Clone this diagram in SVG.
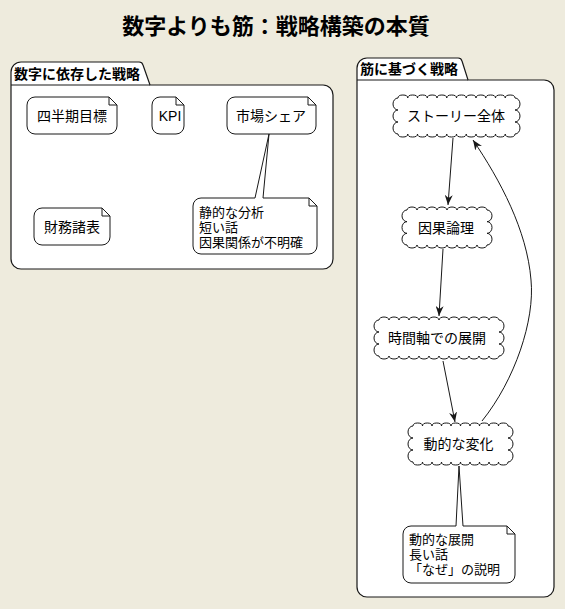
<svg xmlns="http://www.w3.org/2000/svg" width="565" height="609" viewBox="0 0 565 609">
<style>
text{font-family:"Liberation Sans","Noto Sans CJK JP",sans-serif;fill:#000}
.title{font-size:22px;font-weight:bold}
.pkgt{font-size:14px;font-weight:bold}
.nt{font-size:14px}
.nn{font-size:13px}
.shape{fill:#fff;stroke:#181818;stroke-width:1}
.fold{fill:none;stroke:#181818;stroke-width:1}
.pkg{fill:#fff;stroke:#181818;stroke-width:1.2}
.edge{fill:none;stroke:#181818;stroke-width:1}
</style>
<defs>
<marker id="ah" markerUnits="userSpaceOnUse" markerWidth="10" markerHeight="8" viewBox="0 0 10 8" refX="10" refY="4" orient="auto">
<path d="M0,0 L10,4 L0,8 L3,4 Z" fill="#181818"/>
</marker>
</defs>
<rect width="565" height="609" fill="#EEEBDD"/>
<text class="title" x="276" y="34" text-anchor="middle">数字よりも筋：戦略構築の本質</text>

<g id="pkg-numbers">
<path class="pkg" d="M11,85 V72 A10,10 0 0 1 21,62 H139 A4,4 0 0 1 143,65 L150,85 H323 A10,10 0 0 1 333,95 V259 A10,10 0 0 1 323,269 H21 A10,10 0 0 1 11,259 Z"/>
<path class="fold" d="M11,85 H150"/>
<text class="pkgt" x="14" y="79">数字に依存した戦略</text>
</g>

<g id="pkg-story">
<path class="pkg" d="M357,80 V68 A10,10 0 0 1 367,58 H458 A4,4 0 0 1 462,61 L468,80 H544 A10,10 0 0 1 554,90 V587 A10,10 0 0 1 544,597 H367 A10,10 0 0 1 357,587 Z"/>
<path class="fold" d="M357,80 H468"/>
<text class="pkgt" x="360" y="74">筋に基づく戦略</text>
</g>

<g id="n-quarter">
<path class="shape" d="M35,97 H109 L117,105 V126 A8,8 0 0 1 109,134 H35 A8,8 0 0 1 27,126 V105 A8,8 0 0 1 35,97 Z"/>
<path class="fold" d="M109,97 V105 H117"/>
<text class="nt" x="72" y="120.5" text-anchor="middle">四半期目標</text>
</g>

<g id="n-kpi">
<path class="shape" d="M160,97 H176 L184,105 V126 A8,8 0 0 1 176,134 H160 A8,8 0 0 1 152,126 V105 A8,8 0 0 1 160,97 Z"/>
<path class="fold" d="M176,97 V105 H184"/>
<text class="nt" x="170" y="120.5" text-anchor="middle">KPI</text>
</g>

<g id="n-share">
<path class="shape" d="M235,97 H308 L316,105 V126 A8,8 0 0 1 308,134 H235 A8,8 0 0 1 227,126 V105 A8,8 0 0 1 235,97 Z"/>
<path class="fold" d="M308,97 V105 H316"/>
<text class="nt" x="271" y="120.5" text-anchor="middle">市場シェア</text>
</g>

<g id="n-financial">
<path class="shape" d="M42,208 H102 L110,216 V237 A8,8 0 0 1 102,245 H42 A8,8 0 0 1 34,237 V216 A8,8 0 0 1 42,208 Z"/>
<path class="fold" d="M102,208 V216 H110"/>
<text class="nt" x="72" y="231.5" text-anchor="middle">財務諸表</text>
</g>

<g id="note-static">
<path class="shape" d="M201,198 H255 L269,134 L263,198 H309 L317,206 V246 A8,8 0 0 1 309,254 H201 A8,8 0 0 1 193,246 V206 A8,8 0 0 1 201,198 Z"/>
<path class="fold" d="M309,198 V206 H317"/>
<text class="nn" x="199" y="216.5">静的な分析</text>
<text class="nn" x="199" y="231.5">短い話</text>
<text class="nn" x="199" y="246.5">因果関係が不明確</text>
</g>

<g id="c-story">
<path class="shape" d="M398,98 a4.875,3 0 0 1 9.75,0 a4.875,3 0 0 1 9.75,0 a4.875,3 0 0 1 9.75,0 a4.875,3 0 0 1 9.75,0 a4.875,3 0 0 1 9.75,0 a4.875,3 0 0 1 9.75,0 a4.875,3 0 0 1 9.75,0 a4.875,3 0 0 1 9.75,0 a4.875,3 0 0 1 9.75,0 a4.875,3 0 0 1 9.75,0 a4.875,3 0 0 1 9.75,0 a4.875,3 0 0 1 9.75,0 a5,6 0 0 1 0,12 a5,6 0 0 1 0,12 a5,6 0 0 1 0,12 a4.875,3 0 0 1 -9.75,0 a4.875,3 0 0 1 -9.75,0 a4.875,3 0 0 1 -9.75,0 a4.875,3 0 0 1 -9.75,0 a4.875,3 0 0 1 -9.75,0 a4.875,3 0 0 1 -9.75,0 a4.875,3 0 0 1 -9.75,0 a4.875,3 0 0 1 -9.75,0 a4.875,3 0 0 1 -9.75,0 a4.875,3 0 0 1 -9.75,0 a4.875,3 0 0 1 -9.75,0 a4.875,3 0 0 1 -9.75,0 a5,6 0 0 1 0,-12 a5,6 0 0 1 0,-12 a5,6 0 0 1 0,-12 Z"/>
<text class="nt" x="456" y="121" text-anchor="middle">ストーリー全体</text>
</g>

<g id="c-causal">
<path class="shape" d="M407,210 a5,3 0 0 1 10,0 a5,3 0 0 1 10,0 a5,3 0 0 1 10,0 a5,3 0 0 1 10,0 a5,3 0 0 1 10,0 a5,3 0 0 1 10,0 a5,3 0 0 1 10,0 a5,3 0 0 1 10,0 a5,5.833 0 0 1 0,11.667 a5,5.833 0 0 1 0,11.667 a5,5.833 0 0 1 0,11.666 a5,3 0 0 1 -10,0 a5,3 0 0 1 -10,0 a5,3 0 0 1 -10,0 a5,3 0 0 1 -10,0 a5,3 0 0 1 -10,0 a5,3 0 0 1 -10,0 a5,3 0 0 1 -10,0 a5,3 0 0 1 -10,0 a5,5.833 0 0 1 0,-11.667 a5,5.833 0 0 1 0,-11.667 a5,5.833 0 0 1 0,-11.666 Z"/>
<text class="nt" x="446" y="232.5" text-anchor="middle">因果論理</text>
</g>

<g id="c-time">
<path class="shape" d="M379,320 a5,3 0 0 1 10,0 a5,3 0 0 1 10,0 a5,3 0 0 1 10,0 a5,3 0 0 1 10,0 a5,3 0 0 1 10,0 a5,3 0 0 1 10,0 a5,3 0 0 1 10,0 a5,3 0 0 1 10,0 a5,3 0 0 1 10,0 a5,3 0 0 1 10,0 a5,3 0 0 1 10,0 a5,3 0 0 1 10,0 a5,6 0 0 1 0,12 a5,6 0 0 1 0,12 a5,6 0 0 1 0,12 a5,3 0 0 1 -10,0 a5,3 0 0 1 -10,0 a5,3 0 0 1 -10,0 a5,3 0 0 1 -10,0 a5,3 0 0 1 -10,0 a5,3 0 0 1 -10,0 a5,3 0 0 1 -10,0 a5,3 0 0 1 -10,0 a5,3 0 0 1 -10,0 a5,3 0 0 1 -10,0 a5,3 0 0 1 -10,0 a5,3 0 0 1 -10,0 a5,6 0 0 1 0,-12 a5,6 0 0 1 0,-12 a5,6 0 0 1 0,-12 Z"/>
<text class="nt" x="437" y="343" text-anchor="middle">時間軸での展開</text>
</g>

<g id="c-dynamic">
<path class="shape" d="M413,426 a4.75,3 0 0 1 9.5,0 a4.75,3 0 0 1 9.5,0 a4.75,3 0 0 1 9.5,0 a4.75,3 0 0 1 9.5,0 a4.75,3 0 0 1 9.5,0 a4.75,3 0 0 1 9.5,0 a4.75,3 0 0 1 9.5,0 a4.75,3 0 0 1 9.5,0 a4.75,3 0 0 1 9.5,0 a4.75,3 0 0 1 9.5,0 a5,6 0 0 1 0,12 a5,6 0 0 1 0,12 a5,6 0 0 1 0,12 a4.75,3 0 0 1 -9.5,0 a4.75,3 0 0 1 -9.5,0 a4.75,3 0 0 1 -9.5,0 a4.75,3 0 0 1 -9.5,0 a4.75,3 0 0 1 -9.5,0 a4.75,3 0 0 1 -9.5,0 a4.75,3 0 0 1 -9.5,0 a4.75,3 0 0 1 -9.5,0 a4.75,3 0 0 1 -9.5,0 a4.75,3 0 0 1 -9.5,0 a5,6 0 0 1 0,-12 a5,6 0 0 1 0,-12 a5,6 0 0 1 0,-12 Z"/>
<text class="nt" x="458.5" y="449" text-anchor="middle">動的な変化</text>
</g>

<g id="note-dynamic">
<path class="shape" d="M411,526 H456 L459,466 L463,526 H507 L515,534 V575 A8,8 0 0 1 507,583 H411 A8,8 0 0 1 403,575 V534 A8,8 0 0 1 411,526 Z"/>
<path class="fold" d="M507,526 V534 H515"/>
<text class="nn" x="409" y="544">動的な展開</text>
<text class="nn" x="409" y="559">長い話</text>
<text class="nn" x="409" y="574">「なぜ」の説明</text>
</g>

<g id="connectors">
<path class="edge" d="M453,138 L448,205" marker-end="url(#ah)"/>
<path class="edge" d="M443,249 L439,316" marker-end="url(#ah)"/>
<path class="edge" d="M443,361 L455,422" marker-end="url(#ah)"/>
<path class="edge" d="M482,421 C515,380 535,320 531,280 C527,230 500,180 473,140" marker-end="url(#ah)"/>
</g>
</svg>
